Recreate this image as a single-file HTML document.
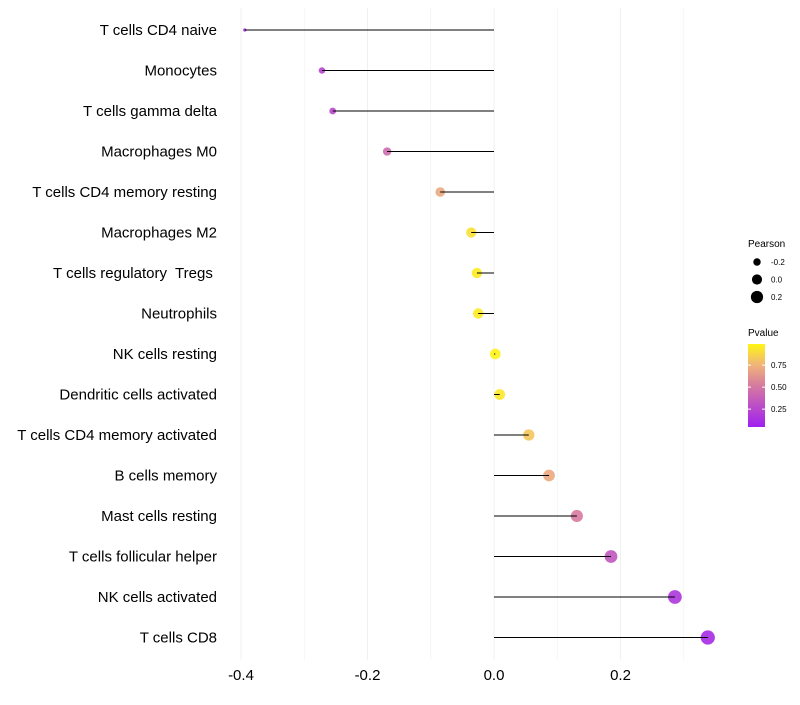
<!DOCTYPE html>
<html><head><meta charset="utf-8"><style>
body{margin:0;background:#fff;font-family:"Liberation Sans",sans-serif;}
text{white-space:pre;}
</style></head><body>
<svg id="c" width="800" height="700" xmlns="http://www.w3.org/2000/svg"></svg>
<script>
const categories=["T cells CD4 naive","Monocytes","T cells gamma delta","Macrophages M0","T cells CD4 memory resting","Macrophages M2","T cells regulatory  Tregs ","Neutrophils","NK cells resting","Dendritic cells activated","T cells CD4 memory activated","B cells memory","Mast cells resting","T cells follicular helper","NK cells activated","T cells CD8"];
const pearson=[-0.394,-0.272,-0.255,-0.169,-0.085,-0.036,-0.027,-0.025,0.002,0.009,0.055,0.087,0.131,0.185,0.286,0.338];
const pvalues=[0.05,0.2,0.22,0.42,0.7,0.92,0.96,0.96,0.99,0.95,0.82,0.7,0.5,0.3,0.12,0.06];
const xTicks=[-0.4,-0.2,0.0,0.2];
const xTickLabels=["-0.4","-0.2","0.0","0.2"];
const sizeLegend=[-0.2,0.0,0.2];
const colorTicks=[0.25,0.5,0.75];

const NS="http://www.w3.org/2000/svg";
const svg=document.getElementById('c');
function el(t,a,p){const e=document.createElementNS(NS,t);for(const k in a)e.setAttribute(k,a[k]);(p||svg).appendChild(e);return e;}
const x=v=>494+v*632.5;
const y=i=>30+i*40.5;
const r=v=>1.1*Math.sqrt(Math.max(1.5,23.6+54.3*v));
const stops=[[0,[160,32,240]],[0.5,[214,122,160]],[0.75,[240,180,120]],[1,[255,245,20]]];
function col(p){p=Math.max(0,Math.min(1,p));for(let i=1;i<stops.length;i++){if(p<=stops[i][0]){const a=stops[i-1],b=stops[i],t=(p-a[0])/(b[0]-a[0]);return 'rgb('+a[1].map((c,k)=>Math.round(c+(b[1][k]-c)*t)).join(',')+')';}}}
for(let v=-0.4;v<=0.3+1e-9;v+=0.1){const g=el('line',{x1:x(v),x2:x(v),y1:8,y2:660,stroke:'#f0f0f0','stroke-width':Math.abs(Math.round(v*10))%2==0?1:0.6});

}
xTicks.forEach((v,i)=>{const t=el('text',{x:x(v),y:680,'text-anchor':'middle','font-size':15,fill:'#000'});t.textContent=xTickLabels[i];

});
categories.forEach((c,i)=>{
const t=el('text',{x:217,y:y(i)+5,'text-anchor':'end','font-size':15,fill:'#000'});t.textContent=c;


const cc=el('circle',{cx:x(pearson[i]),cy:y(i),r:r(pearson[i]),fill:col(pvalues[i]),'fill-opacity':0.9});


const l=el('line',{x1:x(0),x2:x(pearson[i]),y1:y(i),y2:y(i),stroke:'#000','stroke-width':1});


});
let t=el('text',{x:748,y:247,'font-size':10});t.textContent='Pearson';


sizeLegend.forEach((v,i)=>{const cy=262+i*17.5;const c=el('circle',{cx:757,cy:cy,r:r(v)*0.95,fill:'#000'});


const tt=el('text',{x:771,y:cy+3,'font-size':8});tt.textContent=v.toFixed(1);

});
t=el('text',{x:748,y:336,'font-size':10});t.textContent='Pvalue';


const defs=el('defs',{});const lg=el('linearGradient',{id:'g',x1:0,y1:1,x2:0,y2:0},defs);
stops.forEach(s=>el('stop',{offset:s[0],'stop-color':'rgb('+s[1].join(',')+')'},lg));
const bar=el('rect',{x:748,y:344,width:17,height:83,fill:'url(#g)'});


const cy=p=>344+(0.99-p)*88;
colorTicks.forEach(p=>{el('line',{x1:748,x2:751,y1:cy(p),y2:cy(p),stroke:'#fff'});el('line',{x1:762,x2:765,y1:cy(p),y2:cy(p),stroke:'#fff'});
const tt=el('text',{x:771,y:cy(p)+3,'font-size':8});tt.textContent=p.toFixed(2);

});
</script>
</body></html>
